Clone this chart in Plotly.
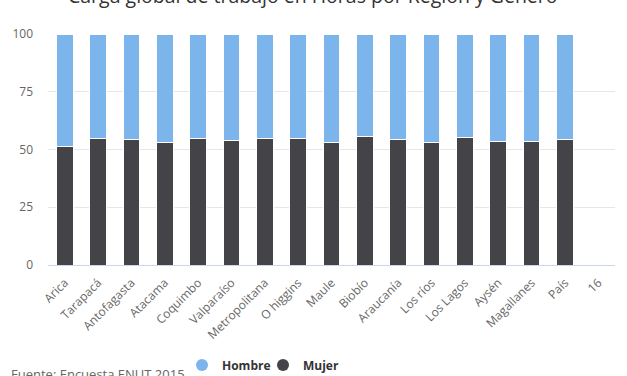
import plotly.graph_objects as go

categories = ["Arica", "Tarapacá", "Antofagasta", "Atacama", "Coquimbo", "Valparaíso",
              "Metropolitana", "O higgins", "Maule", "Biobío", "Araucanía", "Los ríos",
              "Los Lagos", "Aysén", "Magallanes", "País", "16"]
mujer = [51.2, 54.8, 54.4, 53.1, 54.8, 54.0, 54.8, 54.8, 53.1, 55.7, 54.4, 53.1,
         55.0, 53.5, 53.5, 54.5, None]
hombre = [None if m is None else round(100 - m, 1) for m in mujer]

C_H = "#7cb5ec"
C_M = "#434348"
FONT = "Open Sans, DejaVu Sans, sans-serif"

fig = go.Figure()
fig.add_trace(go.Bar(x=categories, y=mujer, name="Mujer", marker=dict(color=C_M, line=dict(color="white", width=1)),
                     showlegend=False, width=0.5))
fig.add_trace(go.Bar(x=categories, y=hombre, name="Hombre", marker=dict(color=C_H, line=dict(color="white", width=1)),
                     showlegend=False, width=0.5))
# legend entries with circular symbols
fig.add_trace(go.Scatter(x=[None], y=[None], mode="markers", name="Hombre",
                         marker=dict(color=C_H, size=12, symbol="circle")))
fig.add_trace(go.Scatter(x=[None], y=[None], mode="markers", name="Mujer",
                         marker=dict(color=C_M, size=12, symbol="circle")))

fig.update_layout(
    width=627, height=376,
    barmode="stack",
    bargap=0.5,
    plot_bgcolor="white", paper_bgcolor="white",
    margin=dict(l=48, r=12, t=34, b=111, autoexpand=False),
    font=dict(family=FONT, color="#666666", size=12),
    legend=dict(orientation="h", xref="container", yref="container",
                x=182 / 627, xanchor="left", y=1 - 365 / 376, yanchor="middle",
                font=dict(family=FONT, size=12, color="#333333", weight="bold"),
                traceorder="normal", itemsizing="constant", itemwidth=30,
                entrywidth=36, entrywidthmode="pixels"),
    xaxis=dict(type="category", tickangle=-45, showgrid=False, showline=True, automargin=False,
               linecolor="#ccd6eb", linewidth=1, ticks="", ticklabelstandoff=5,
               tickfont=dict(size=12, color="#666666"),
               range=[-0.5, 16.5], fixedrange=True),
    yaxis=dict(range=[0, 100], tickvals=[0, 25, 50, 75, 100], showgrid=True, gridcolor="#e6e6e6",
               zeroline=False, showline=False, ticks="", ticklabelstandoff=14, automargin=False,
               tickfont=dict(size=12, color="#666666"), fixedrange=True),
    annotations=[
        dict(text="Carga global de trabajo en Horas por Región y Género", xref="paper", yref="paper",
             x=(313 - 48) / 567, y=(265 - 11) / 231, xanchor="center", yanchor="bottom", showarrow=False,
             font=dict(family=FONT, size=19.5, color="#333333")),
        dict(text="Fuente: Encuesta ENUT 2015", xref="paper", yref="paper",
             x=(9 - 48) / 567, y=(265 - 385) / 231, xanchor="left", yanchor="bottom", showarrow=False,
             font=dict(family=FONT, size=13, color="#666666")),
    ],
)

fig.write_html("out.html", config={"displayModeBar": False},
               post_script="document.body.style.margin='0';")
